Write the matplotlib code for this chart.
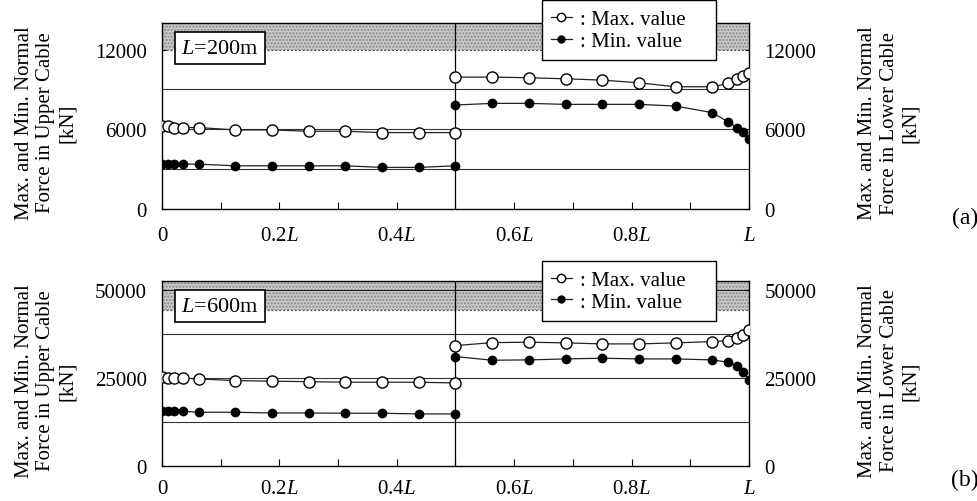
import matplotlib
matplotlib.use("Agg")
import matplotlib.pyplot as plt
from matplotlib.lines import Line2D

plt.rcParams['font.family'] = ['Liberation Serif', 'DejaVu Serif']
plt.rcParams['mathtext.fontset'] = 'custom'
plt.rcParams['mathtext.rm'] = 'Liberation Serif'
plt.rcParams['mathtext.it'] = 'Liberation Serif:italic'

# positions along the span (fraction of L)
x_upper = [0, 0.01, 0.02, 0.035, 0.0625, 0.125, 0.1875, 0.25, 0.3125, 0.375, 0.4375, 0.5]
x_lower = [0.5, 0.5625, 0.625, 0.6875, 0.75, 0.8125, 0.875, 0.9375, 0.965, 0.98, 0.99, 1.0]

# (a) L=200m
a_up_max = [6250, 6250, 6130, 6130, 6130, 5950, 5950, 5850, 5850, 5750, 5750, 5750]
a_up_min = [3375, 3375, 3375, 3375, 3375, 3250, 3250, 3250, 3250, 3130, 3130, 3250]
a_lo_max = [9925, 9925, 9880, 9800, 9700, 9500, 9200, 9200, 9450, 9750, 10000, 10200]
a_lo_min = [7825, 7950, 7950, 7875, 7875, 7875, 7750, 7250, 6550, 6130, 5800, 5250]

# (b) L=600m
b_up_max = [25280, 25085, 25085, 25085, 24800, 24320, 24150, 24030, 23860, 23860, 23860, 23660]
b_up_min = [15625, 15625, 15625, 15625, 15340, 15340, 15140, 15140, 15060, 15060, 14860, 14860]
b_lo_max = [34260, 35100, 35230, 35030, 34740, 34740, 35030, 35400, 35680, 36360, 37300, 38720]
b_lo_min = [31140, 30110, 30200, 30480, 30680, 30480, 30480, 30200, 29550, 28410, 26700, 24520]

x_ticks = [0, 0.2, 0.4, 0.6, 0.8, 1.0]
x_ticklabels = ['0', '0.2$L$', '0.4$L$', '0.6$L$', '0.8$L$', '$L$']

panels = [
    dict(rect=[0.1656, 0.5817, 0.6002, 0.3705], ylim=14000, yticks=[0, 6000, 12000],
         grid=[3000, 6000, 9000], band=12000, solid=None, title='$L$=200m', tag='(a)', tag_y=0.565,
         data=(a_up_max, a_up_min, a_lo_max, a_lo_min), leg_y=0.96, xpad=12),
    dict(rect=[0.1656, 0.0691, 0.6002, 0.3685], ylim=52500, yticks=[0, 25000, 50000],
         grid=[12500, 25000, 37500], band=44500, solid=50000, title='$L$=600m', tag='(b)', tag_y=0.043,
         data=(b_up_max, b_up_min, b_lo_max, b_lo_min), leg_y=0.948, xpad=9),
]

fig = plt.figure(figsize=(9.78, 5.02), dpi=100)

for p in panels:
    ax = fig.add_axes(p['rect'])
    ax.set_xlim(0, 1)
    ax.set_ylim(0, p['ylim'])

    # shaded band at top
    ax.axhspan(p['band'], p['ylim'], facecolor='#c8c8c8', edgecolor='#8a8a8a',
               hatch='.....', linewidth=0, zorder=0)
    ax.axhline(p['band'], color='#555555', lw=0.8, ls=(0, (2, 1.5)), zorder=1)
    if p['solid']:
        ax.axhline(p['solid'], color='#222222', lw=0.8, zorder=1)
    for g in p['grid']:
        ax.axhline(g, color='#333333', lw=0.8, zorder=1)
    ax.axvline(0.5, color='black', lw=0.9, zorder=1)

    up_max, up_min, lo_max, lo_min = p['data']
    for xs, ys in ((x_upper, up_max), (x_lower, lo_max)):
        ax.plot(xs, ys, color='#222222', lw=0.9, marker='o', ms=8, mfc='white',
                mec='black', mew=1.0, zorder=3)
    for xs, ys in ((x_upper, up_min), (x_lower, lo_min)):
        ax.plot(xs, ys, color='#222222', lw=0.9, marker='o', ms=6, mfc='black',
                mec='black', zorder=3)

    ax.set_xticks(x_ticks)
    ax.set_xticklabels(x_ticklabels)
    ax.set_xticks([0.1, 0.3, 0.5, 0.7, 0.9], minor=True)
    ax.tick_params(axis='x', which='both', direction='in', length=5, width=0.8,
                   labelsize=15, pad=p['xpad'])
    ax.set_yticks(p['yticks'])
    ax.yaxis.set_ticks_position('both')
    ax.tick_params(axis='y', direction='in', length=3, width=0.8, labelsize=15,
                   labelleft=True, labelright=True, pad=11)
    for s in ax.spines.values():
        s.set_linewidth(1.0)

    ax.text(0.099, 0.865, p['title'], transform=ax.transAxes, fontsize=16,
            ha='center', va='center', zorder=5,
            bbox=dict(boxstyle='square,pad=0.3', facecolor='white', edgecolor='black', lw=1.2))

    handles = [
        Line2D([], [], color='#222222', lw=0.9, marker='o', ms=6, mfc='white', mec='black'),
        Line2D([], [], color='#222222', lw=0.9, marker='o', ms=5, mfc='black', mec='black'),
    ]
    leg = ax.legend(handles, [': Max. value    ', ': Min. value    '], loc='center',
                    bbox_to_anchor=(0.7956, p['leg_y']), fontsize=15, frameon=True,
                    fancybox=False, edgecolor='black', framealpha=1, handlelength=1.0,
                    handletextpad=0.4, borderpad=0.45, labelspacing=0.1, borderaxespad=0)
    leg.get_frame().set_linewidth(1.0)
    leg.set_zorder(6)

    bot, h = p['rect'][1], p['rect'][3]
    yc = bot + h / 2 - 0.012
    fig.text(0.047, yc, 'Max. and Min. Normal\nForce in Upper Cable\n[kN]', rotation=90,
             ha='center', va='center', fontsize=15, linespacing=1.2, multialignment='center')
    fig.text(0.909, yc, 'Max. and Min. Normal\nForce in Lower Cable\n[kN]', rotation=90,
             ha='center', va='center', fontsize=15, linespacing=1.2, multialignment='center')
    fig.text(0.987, p['tag_y'], p['tag'], ha='center', va='center', fontsize=17)

fig.savefig('out.png', dpi=100)
